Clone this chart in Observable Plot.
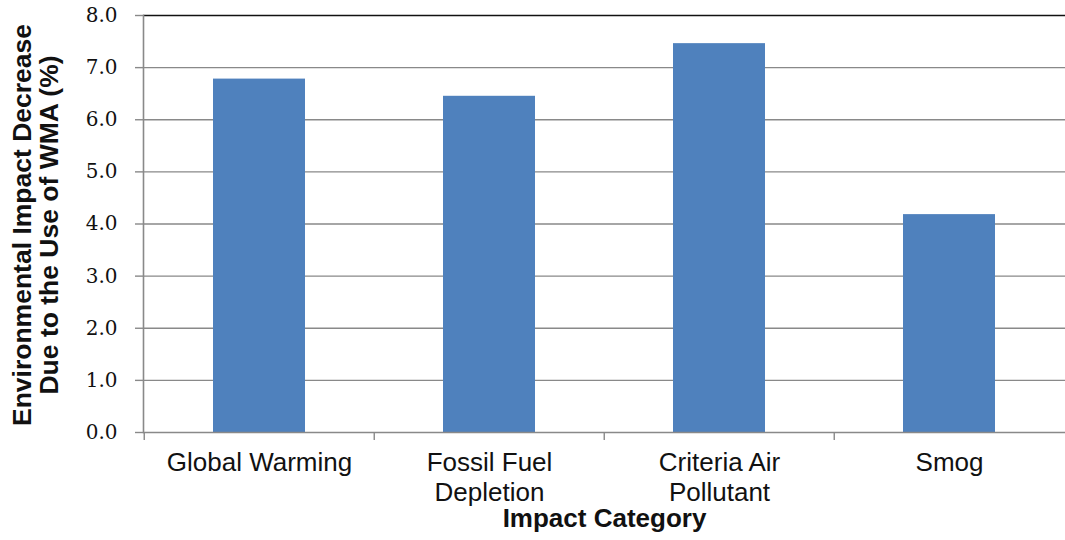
<!DOCTYPE html>
<html>
<head>
<meta charset="utf-8">
<script src="https://cdn.jsdelivr.net/npm/d3@7"></script>
<script src="https://cdn.jsdelivr.net/npm/@observablehq/plot@0.6"></script>
<style>
  html, body { margin: 0; padding: 0; background: #fff; }
  #chart svg { display: block; }
</style>
</head>
<body>
<div id="chart"></div>
<script>
// Impact categories and the percentage decrease for each
const categories = ["Global Warming", "Fossil Fuel\nDepletion", "Criteria Air\nPollutant", "Smog"];
const decreases = [6.78, 6.45, 7.46, 4.18];
const yTicks = [0, 1, 2, 3, 4, 5, 6, 7, 8];
const gridValues = [1, 2, 3, 4, 5, 6, 7];
const topValue = [8];
const yTitle = "Environmental Impact Decrease\nDue to the Use of WMA (%)";
const xTitle = "Impact Category";

const rows = categories.map((c, i) => ({category: c, value: decreases[i]}));

const W = 1065, H = 540;
const mL = 143, mR = 0, mT = 15, mB = 108;
const step = (W - mL - mR) / categories.length;

const sans = "'Liberation Sans', Arial, sans-serif";
const serif = "'DejaVu Serif', 'Liberation Serif', serif";

const chart = Plot.plot({
  width: W,
  height: H,
  marginLeft: mL,
  marginRight: mR,
  marginTop: mT,
  marginBottom: mB,
  style: {background: "#fff", overflow: "visible"},
  x: {domain: categories, paddingInner: 0.6, paddingOuter: 0.3, align: 0.5},
  y: {domain: [0, 8]},
  marks: [
    // horizontal gridlines
    Plot.ruleY(gridValues, {stroke: "#898989", strokeWidth: 1.4}),
    // bars
    Plot.barY(rows, {x: "category", y: "value", fill: "#4f81bd"}),
    // top border
    Plot.ruleY(topValue, {stroke: "#111", strokeWidth: 1.6}),
    // baseline
    Plot.ruleY([0], {stroke: "#898989", strokeWidth: 1.4}),
    // vertical axis line
    Plot.frame({anchor: "left", stroke: "#898989", strokeWidth: 1.6}),
    // y axis ticks and labels
    Plot.axisY({
      ticks: yTicks,
      tickSize: 8,
      tickPadding: 18,
      tickFormat: d => d.toFixed(1),
      stroke: "#898989",
      strokeWidth: 1.4,
      fill: "#111",
      fontSize: 20,
      fontFamily: serif,
      label: null
    }),
    // category boundary ticks
    Plot.axisX({
      ticks: categories,
      tickSize: 8,
      dx: -step / 2,
      text: null,
      stroke: "#898989",
      strokeWidth: 1.4,
      label: null
    }),
    // category labels
    Plot.axisX({
      tickSize: 0,
      tickPadding: 18,
      fontSize: 26,
      fontFamily: sans,
      fill: "#111",
      lineHeight: 1.13,
      label: null
    }),
    // axis titles
    Plot.text([xTitle], {
      text: d => d,
      frameAnchor: "bottom",
      dy: 94,
      fontSize: 26,
      fontWeight: "bold",
      fontFamily: sans,
      fill: "#111"
    }),
    Plot.text([yTitle], {
      text: d => d,
      frameAnchor: "left",
      textAnchor: "middle",
      dx: -108,
      dy: 1,
      rotate: -90,
      fontSize: 26.5,
      fontWeight: "bold",
      fontFamily: sans,
      lineHeight: 1.05,
      fill: "#111"
    })
  ]
});

document.getElementById("chart").appendChild(chart);
</script>
</body>
</html>
